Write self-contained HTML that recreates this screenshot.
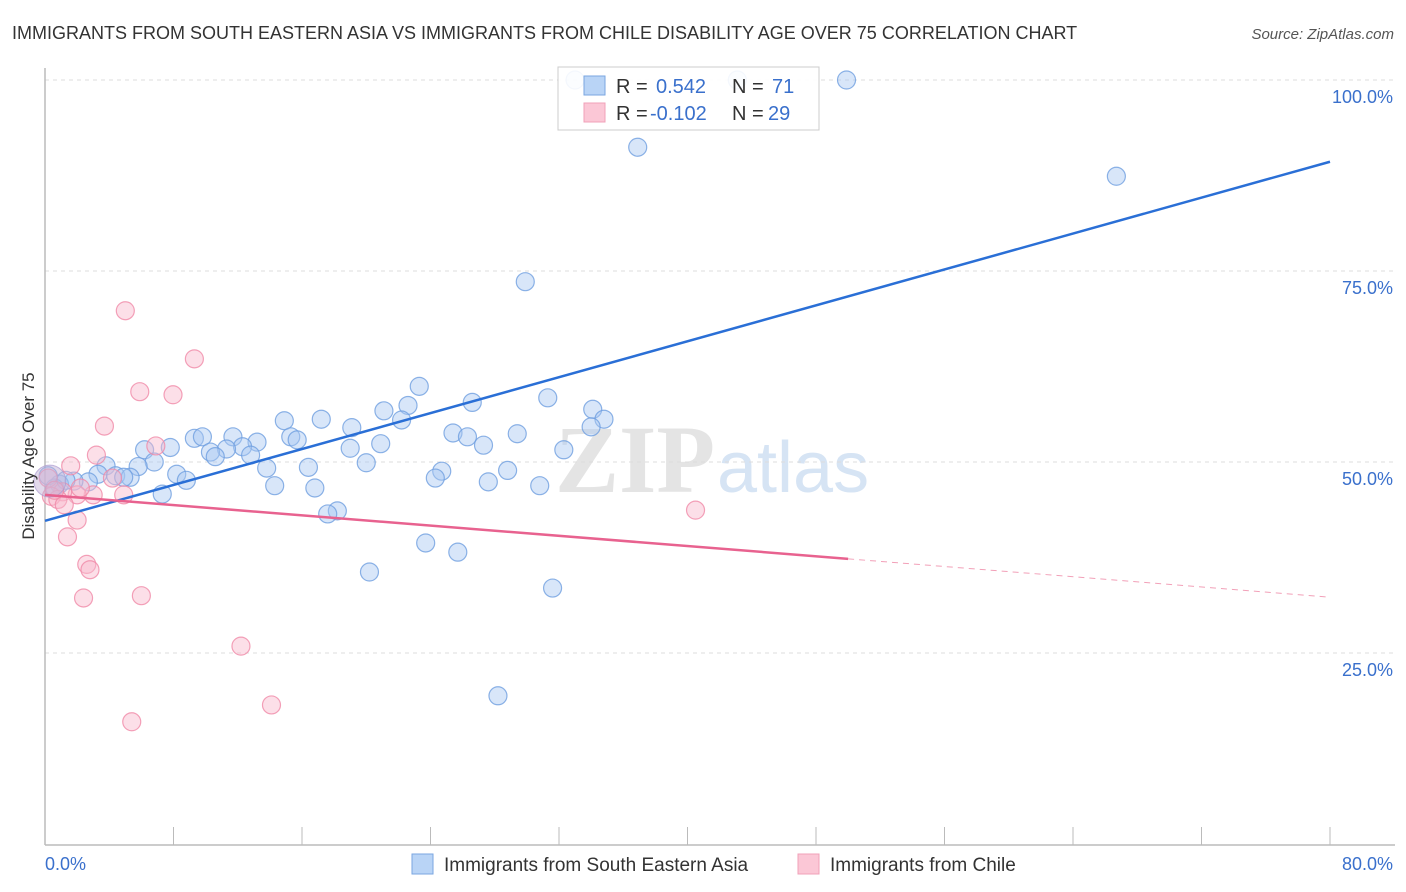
<!DOCTYPE html>
<html><head><meta charset="utf-8"><style>
body{margin:0;background:#fff;font-family:"Liberation Sans",sans-serif;}
svg{display:block}
</style></head><body>
<svg id="chart" width="1406" height="892" xmlns="http://www.w3.org/2000/svg">
<text x="12" y="39" font-size="18" fill="#333">IMMIGRANTS FROM SOUTH EASTERN ASIA VS IMMIGRANTS FROM CHILE DISABILITY AGE OVER 75 CORRELATION CHART</text>
<text x="1394" y="39" font-size="15" fill="#555" text-anchor="end" font-style="italic">Source: ZipAtlas.com</text>
<g>
<text x="555" y="492" font-size="96" fill="#e4e4e4" font-family="Liberation Serif,serif" font-weight="bold">ZIP</text>
<text x="717" y="492" font-size="72" fill="#d6e4f4">atlas</text>
</g>
<g id="grid"></g>
<g id="axes"></g>
<g id="pts"></g>
<g id="lines"></g>
<text transform="translate(34,456) rotate(-90)" font-size="17" fill="#333" text-anchor="middle">Disability Age Over 75</text>
<g>
<rect x="558" y="67" width="261" height="63" fill="#fff" fill-opacity="0.9" stroke="#ccc"/>
<rect x="584" y="76" width="21" height="19" fill="#b9d4f6" stroke="#7aa6e0"/>
<rect x="584" y="103" width="21" height="19" fill="#fbc7d6" stroke="#f0a0b8"/>
<text x="616" y="93" font-size="20" fill="#333">R =</text>
<text x="656" y="93" font-size="20" fill="#3a70cc">0.542</text>
<text x="732" y="93" font-size="20" fill="#333">N =</text>
<text x="772" y="93" font-size="20" fill="#3a70cc">71</text>
<text x="616" y="120" font-size="20" fill="#333">R =</text>
<text x="650" y="120" font-size="20" fill="#3a70cc">-0.102</text>
<text x="732" y="120" font-size="20" fill="#333">N =</text>
<text x="768" y="120" font-size="20" fill="#3a70cc">29</text>
</g>
<g>
<rect x="412" y="854" width="21" height="20" fill="#b9d4f6" stroke="#7aa6e0"/>
<text x="444" y="871" font-size="19" fill="#333">Immigrants from South Eastern Asia</text>
<rect x="798" y="854" width="21" height="20" fill="#fbc7d6" stroke="#f0a0b8"/>
<text x="830" y="871" font-size="19" fill="#333">Immigrants from Chile</text>
</g>
</svg>
<script>
const blueX=[33.0,43.1,49.9,36.9,66.7,29.9,23.3,26.6,31.3,22.6,21.1,34.1,34.8,14.9,17.2,22.2,19.1,25.4,34.0,29.4,26.3,27.3,32.3,15.3,15.7,20.9,11.7,13.2,9.3,9.8,7.8,6.2,12.3,11.3,10.3,19.0,10.6,12.8,6.8,5.8,3.8,16.4,20.0,24.7,28.8,13.8,8.2,3.3,4.4,5.3,2.7,4.9,24.3,27.6,30.8,8.8,14.3,16.8,7.3,1.8,0.9,0.6,0.2,18.2,17.6,23.7,25.7,20.2,31.6,28.2,1.3];
const blueY=[100,100,100,91.2,87.4,73.6,59.9,57.8,58.4,57.4,56.7,56.9,55.6,55.4,55.6,55.5,54.5,53.8,54.6,53.7,53.3,52.2,51.6,53.3,52.9,52.4,53.3,52.6,53.1,53.3,51.9,51.6,52.0,51.7,51.3,51.8,50.7,50.9,50.0,49.4,49.5,49.3,49.9,48.8,48.9,49.2,48.4,48.4,48.2,48.0,47.4,48.0,47.9,47.4,46.9,47.6,46.9,46.6,45.8,47.5,47.1,46.6,48.2,43.6,43.2,39.4,38.2,35.6,33.5,19.4,47.6];
const pinkX=[5.0,9.3,5.9,7.97,3.7,6.9,3.2,1.6,4.2,4.9,3.0,2.0,1.1,0.4,0.8,1.2,2.0,1.4,2.6,2.8,2.4,6.0,12.2,14.1,5.4,40.5,0.2,0.6,2.2];
const pinkY=[69.8,63.5,59.2,58.8,54.7,52.1,50.9,49.5,47.9,45.7,45.7,45.7,46.1,45.5,45.1,44.4,42.4,40.2,36.6,35.9,32.2,32.5,25.9,18.2,16.0,43.7,47.9,46.3,46.6];
const blueLine=[42.3,89.3], pinkLine=[45.7,32.3], pinkSolidEnd=50;
const yTicks=[25,50,75,100], yTickLabels=["25.0%","50.0%","75.0%","100.0%"];
const xTicks=[0,8,16,24,32,40,48,56,64,72,80];
const X0=45,X1=1330,Y0=844,Y100=80;
const sx=v=>X0+(X1-X0)*v/80, sy=v=>Y0-(Y0-Y100)*v/100;
const NS="http://www.w3.org/2000/svg";
function mk(p,t,a){const e=document.createElementNS(NS,t);for(const k in a)e.setAttribute(k,a[k]);p.appendChild(e);return e;}
const grid=document.getElementById('grid'),axes=document.getElementById('axes'),pts=document.getElementById('pts'),lines=document.getElementById('lines');
yTicks.forEach((v,i)=>{
 const g=mk(grid,'line',{x1:X0,x2:1395,y1:sy(v),y2:sy(v),stroke:'#ddd','stroke-dasharray':'4,4'});
 
 
 const t=mk(axes,'text',{x:1393,y:sy(v)+23,'font-size':18,fill:'#3a70cc','text-anchor':'end'});
 t.textContent=yTickLabels[i];
 
 
});
const ax=mk(axes,'line',{x1:X0,x2:1395,y1:845,y2:845,stroke:'#bbb','stroke-width':1.5});


const ay=mk(axes,'line',{x1:X0,x2:X0,y1:68,y2:845,stroke:'#bbb','stroke-width':1.5});


xTicks.forEach(v=>{
 const t=mk(axes,'line',{x1:sx(v),x2:sx(v),y1:827,y2:845,stroke:'#bbb'});
 
 
});
const xl=mk(axes,'text',{x:45,y:870,'font-size':18,fill:'#3a70cc'});xl.textContent='0.0%';


const xr=mk(axes,'text',{x:1393,y:870,'font-size':18,fill:'#3a70cc','text-anchor':'end'});xr.textContent='80.0%';


function dots(xs,ys,fill,stroke,name){xs.forEach((v,i)=>{
 const c=mk(pts,'circle',{cx:sx(v),cy:sy(ys[i]),r:9,fill:fill,'fill-opacity':0.45,stroke:stroke,'stroke-opacity':0.8,'stroke-width':1.2});
 
 
});}
dots(blueX,blueY,'#a9c8f2','#6f9fe0','blue-point');
dots(pinkX,pinkY,'#f8b8cb','#f08aa8','pink-point');
const big=mk(pts,'circle',{cx:sx(0.3),cy:sy(47.5),r:16,fill:'#c6b4d8','fill-opacity':0.5,stroke:'#a99ad0','stroke-opacity':0.7});


const bl=mk(lines,'line',{x1:sx(0),y1:sy(blueLine[0]),x2:sx(80),y2:sy(blueLine[1]),stroke:'#2a6fd6','stroke-width':2.5});


const pe=pinkLine[0]+(pinkLine[1]-pinkLine[0])*pinkSolidEnd/80;
const pl=mk(lines,'line',{x1:sx(0),y1:sy(pinkLine[0]),x2:sx(pinkSolidEnd),y2:sy(pe),stroke:'#e8628f','stroke-width':2.5});


const pd=mk(lines,'line',{x1:sx(pinkSolidEnd),y1:sy(pe),x2:sx(80),y2:sy(pinkLine[1]),stroke:'#f2a0b8','stroke-width':1,'stroke-dasharray':'6,5'});


</script>
</body></html>
